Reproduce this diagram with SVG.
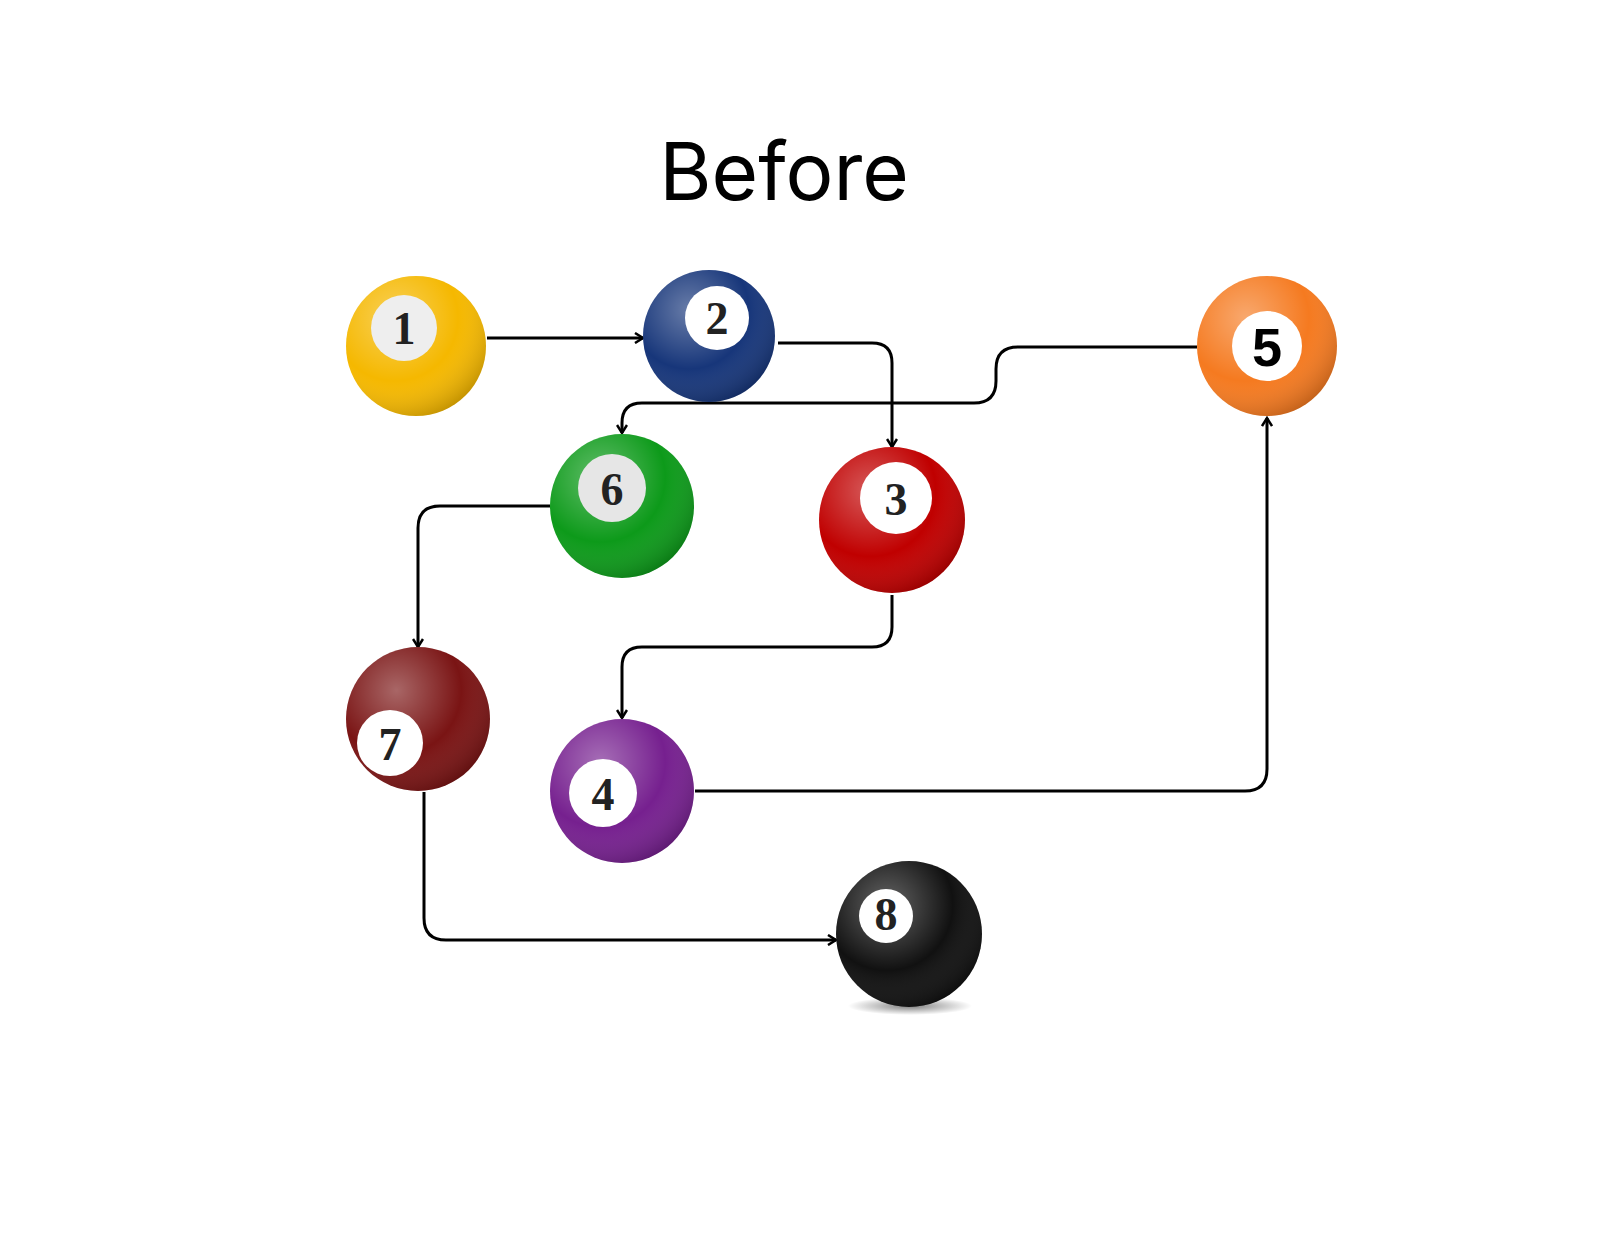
<svg xmlns="http://www.w3.org/2000/svg" width="1600" height="1237" viewBox="0 0 1600 1237">
<defs>
<marker id="ar" viewBox="0 0 12 12" refX="10" refY="6" markerWidth="12" markerHeight="12" markerUnits="userSpaceOnUse" orient="auto"><path d="M2,1 L10,6 L2,11" fill="none" stroke="#000" stroke-width="2.5"/></marker>
<radialGradient id="shine" cx="0.35" cy="0.3" r="0.75"><stop offset="0" stop-color="#fff" stop-opacity="0.35"/><stop offset="0.6" stop-color="#fff" stop-opacity="0"/><stop offset="1" stop-color="#000" stop-opacity="0.2"/></radialGradient>
<radialGradient id="sh" cx="0.5" cy="0.5" r="0.5"><stop offset="0" stop-color="#000" stop-opacity="0.5"/><stop offset="1" stop-color="#000" stop-opacity="0"/></radialGradient>
</defs>
<style>
.c{fill:none;stroke:#000;stroke-width:3;marker-end:url(#ar)}
.w{fill:#fff}
.n{font-family:"Liberation Serif",serif;font-weight:bold;font-size:46px;text-anchor:middle;fill:#222}
.g{fill:url(#shine)}
</style>
<rect width="1600" height="1237" fill="#fff"/>
<text x="784" y="200" font-family="Inter, 'Open Sans', sans-serif" font-size="80" text-anchor="middle" fill="#000">Before</text>
<g id="connectors">
<path class="c" d="M487,338 H643"/>
<path class="c" d="M778,343 H872 Q892,343 892,363 V447"/>
<path class="c" d="M1197,347 H1018 Q996,347 996,369 V381 Q996,403 974,403 H642 Q622,403 622,423 V433"/>
<path class="c" d="M550,506 H440 Q418,506 418,528 V647"/>
<path class="c" d="M892,595 V627 Q892,647 872,647 H642 Q622,647 622,667 V718"/>
<path class="c" d="M695,791 H1245 Q1267,791 1267,769 V418"/>
<path class="c" d="M424,792 V918 Q424,940 446,940 H836"/>
</g>
<g id="ball1"><circle cx="416" cy="346" r="70" fill="#f5b800"/><circle cx="416" cy="346" r="70" class="g"/><circle cx="404" cy="328" r="33" fill="#eee"/><text class="n" x="404" y="344">1</text></g>
<g id="ball2"><circle cx="709" cy="336" r="66" fill="#17367a"/><circle cx="709" cy="336" r="66" class="g"/><circle cx="717" cy="318" r="32" class="w"/><text class="n" x="717" y="334">2</text></g>
<g id="ball5"><circle cx="1267" cy="346" r="70" fill="#f57a20"/><circle cx="1267" cy="346" r="70" class="g"/><circle cx="1267" cy="346" r="35" class="w"/><text x="1267" y="366" font-family="'Liberation Sans',sans-serif" font-weight="bold" font-size="54" text-anchor="middle">5</text></g>
<g id="ball6"><circle cx="622" cy="506" r="72" fill="#0d9a1a"/><circle cx="622" cy="506" r="72" class="g"/><circle cx="612" cy="488" r="34" fill="#e6e6e6"/><text class="n" x="612" y="505">6</text></g>
<g id="ball3"><circle cx="892" cy="520" r="73" fill="#c00000"/><circle cx="892" cy="520" r="73" class="g"/><circle cx="896" cy="498" r="36" class="w"/><text class="n" x="896" y="515">3</text></g>
<g id="ball7"><circle cx="418" cy="719" r="72" fill="#7a1414"/><circle cx="418" cy="719" r="72" class="g"/><circle cx="390" cy="743" r="33" class="w"/><text class="n" x="390" y="760">7</text></g>
<g id="ball4"><circle cx="622" cy="791" r="72" fill="#76208f"/><circle cx="622" cy="791" r="72" class="g"/><circle cx="603" cy="793" r="34" class="w"/><text class="n" x="603" y="810">4</text></g>
<g id="ball8"><ellipse cx="910" cy="1006" rx="62" ry="9" fill="url(#sh)"/><circle cx="909" cy="934" r="73" fill="#111"/><circle cx="909" cy="934" r="73" class="g"/><circle cx="886" cy="916" r="27" class="w"/><text class="n" x="886" y="930" font-size="38">8</text></g>
</svg>
